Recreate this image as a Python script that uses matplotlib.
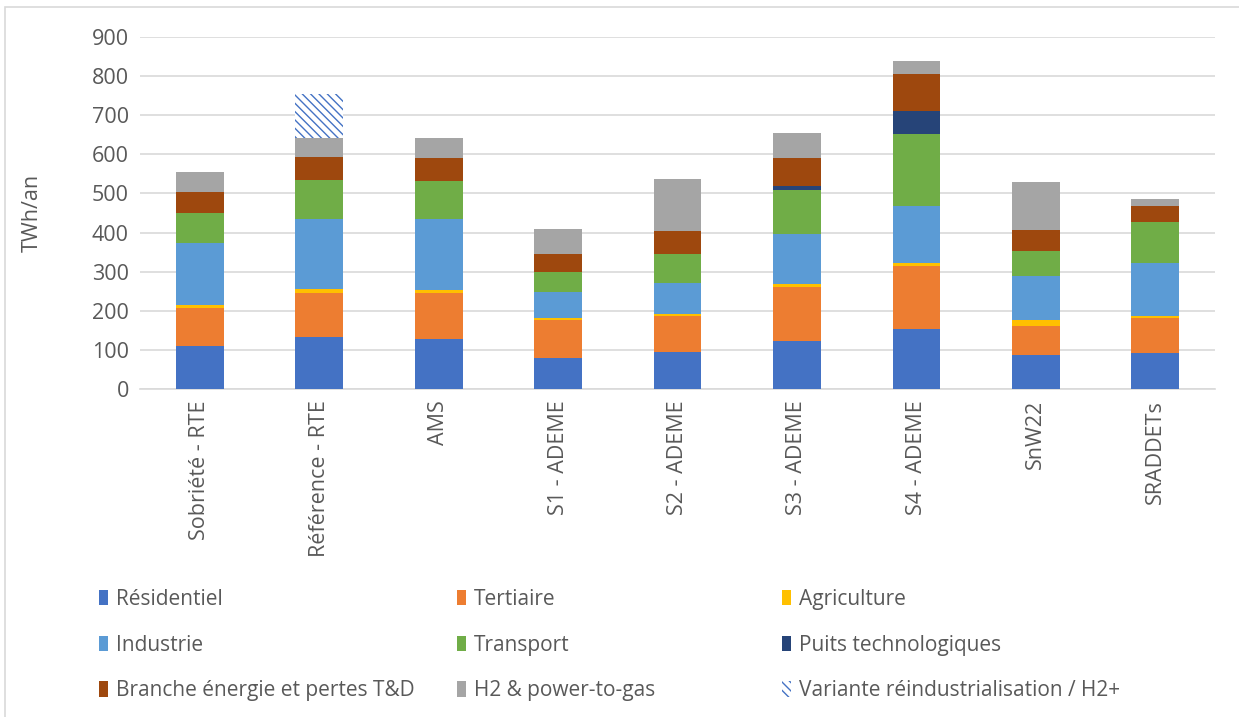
import numpy as np
import matplotlib
matplotlib.use('Agg')
from matplotlib import pyplot as plt
from matplotlib.patches import Patch, Rectangle

plt.rcParams['font.family'] = ['Open Sans', 'DejaVu Sans']
plt.rcParams['hatch.linewidth'] = 1.0

scenarios = ['Sobriété - RTE', 'Référence - RTE', 'AMS', 'S1 - ADEME', 'S2 - ADEME',
             'S3 - ADEME', 'S4 - ADEME', 'SnW22', 'SRADDETs']

residentiel = [111, 134, 129, 79, 95, 123, 154, 87, 92]
tertiaire = [96, 111, 116, 97, 92, 138, 160, 74, 90]
agriculture = [9, 11, 8, 5, 5, 8, 8, 16, 5]
industrie = [157, 179, 182, 67, 79, 128, 145, 111, 136]
transport = [78, 100, 97, 52, 74, 113, 185, 66, 105]
puits = [0, 0, 0, 0, 0, 8, 60, 0, 0]
branche = [53, 59, 58, 45, 59, 72, 94, 53, 39]
h2 = [51, 49, 51, 63, 134, 65, 33, 123, 19]
variante = [0, 110, 0, 0, 0, 0, 0, 0, 0]

series = [
    ('Résidentiel', residentiel, '#4472C4'),
    ('Tertiaire', tertiaire, '#ED7D31'),
    ('Agriculture', agriculture, '#FFC000'),
    ('Industrie', industrie, '#5B9BD5'),
    ('Transport', transport, '#70AD47'),
    ('Puits technologiques', puits, '#264478'),
    ('Branche énergie et pertes T&D', branche, '#9E480E'),
    ('H2 & power-to-gas', h2, '#A5A5A5'),
]

txt = '#595959'
grid = '#D9D9D9'

fig = plt.figure(figsize=(12.39, 7.17), dpi=100)
ax = fig.add_axes([140 / 1239, 1 - 389 / 717, 1075 / 1239, 352 / 717])

x = np.arange(len(scenarios))
bottom = np.zeros(len(scenarios))
handles = []
for name, vals, col in series:
    ax.bar(x, vals, 0.4, bottom=bottom, color=col, zorder=3)
    bottom += np.array(vals)
    handles.append(Patch(facecolor=col, label=name))

ax.bar(x, variante, 0.4, bottom=bottom, facecolor='white', edgecolor='#4472C4',
       hatch='\\\\\\\\', linewidth=0, zorder=3)
handles.append(Patch(facecolor='white', edgecolor='#4472C4', hatch='\\\\\\\\',
                     linewidth=0, label='Variante réindustrialisation / H2+'))

ax.set_xlim(-0.5, len(scenarios) - 0.5)
ax.set_ylim(0, 900)
ax.set_yticks(np.arange(0, 901, 100))
ax.yaxis.grid(True, color=grid, linewidth=1.2, zorder=0)
for s in ['top', 'right', 'left']:
    ax.spines[s].set_visible(False)
ax.spines['bottom'].set_color(grid)
ax.spines['bottom'].set_linewidth(1.2)
ax.tick_params(length=0, labelsize=15.5, colors=txt, pad=8)
ax.set_xticks(x)
ax.set_xticklabels(scenarios, rotation=90)
ax.set_ylabel('TWh/an', fontsize=15.5, color=txt)
ax.yaxis.set_label_coords(-0.09, 0.5)

# legend, three columns placed like the original
cols = [(99, [0, 3, 6]), (457, [1, 4, 7]), (782, [2, 5, 8])]
for xpos, idx in cols:
    leg = fig.legend(handles=[handles[i] for i in idx], loc='upper left',
                     bbox_to_anchor=(xpos / 1239, 1 - 589 / 717), frameon=False,
                     fontsize=15, labelcolor=txt, handlelength=0.45, handleheight=0.75,
                     handletextpad=0.35, labelspacing=1.18, borderaxespad=0, borderpad=0)

fig.patches.append(Rectangle((5 / 1239, -0.05), 1.1, 1 - 7 / 717 + 0.05,
                             transform=fig.transFigure, fill=False,
                             edgecolor=grid, linewidth=1.2))

fig.savefig('out.png', dpi=100)
